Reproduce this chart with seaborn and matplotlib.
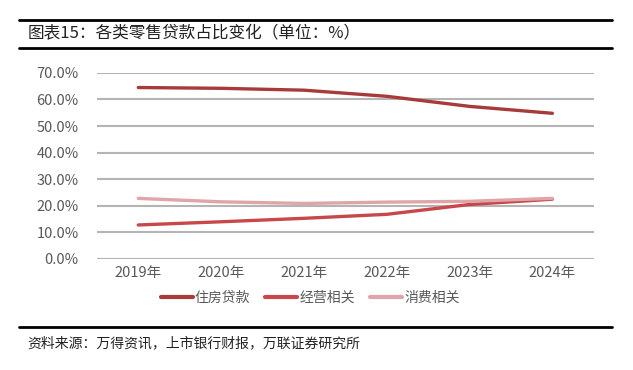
import pandas as pd
import seaborn as sns
import matplotlib.pyplot as plt
from matplotlib.lines import Line2D

# 各类零售贷款占比（%）
years = ['2019年', '2020年', '2021年', '2022年', '2023年', '2024年']
housing = [64.5, 64.2, 63.5, 61.2, 57.4, 54.8]
business = [12.8, 14.0, 15.3, 16.8, 20.5, 22.5]
consumer = [22.8, 21.5, 20.9, 21.4, 21.7, 22.8]
series_names = ['住房贷款', '经营相关', '消费相关']
colors = ['#A83A3A', '#C8474A', '#E0A5A8']

df = pd.DataFrame({'year': years * 3,
                   'value': housing + business + consumer,
                   'type': [n for n in series_names for _ in years]})

sns.set_style('white')
plt.rcParams['font.family'] = ['Noto Sans CJK SC', 'DejaVu Sans']

fig = plt.figure(figsize=(6.33, 3.70), dpi=100)
ax = fig.add_axes([0.153, 0.30, 0.785, 0.503])

sns.lineplot(data=df, x='year', y='value', hue='type', palette=colors,
             linewidth=2.4, ax=ax, legend=False, sort=False)

ax.set_xlim(-0.5, 5.5)
ax.set_ylim(0, 70)
ax.set_yticks(range(0, 71, 10))
ax.set_yticklabels([f'{v:.1f}%' for v in range(0, 71, 10)])
ax.yaxis.grid(True, color='#B4B4B4', linewidth=1.5)
ax.set_axisbelow(True)
for s in ax.spines.values():
    s.set_visible(False)
ax.tick_params(axis='both', length=0, labelsize=10.5, colors='#595959', pad=5)
ax.tick_params(axis='y', pad=13)
ax.set_xlabel('')
ax.set_ylabel('')

handles = [Line2D([], [], color=c, linewidth=3) for c in colors]
fig.legend(handles, series_names, loc='center', bbox_to_anchor=(0.49, 0.195),
           ncol=3, frameon=False, fontsize=10, handlelength=2.3,
           handletextpad=0.15, columnspacing=1.1, labelcolor='#595959')

# 标题与来源
fig.add_artist(Line2D([0.03, 0.967], [0.946, 0.946], color='black', linewidth=2))
fig.add_artist(Line2D([0.03, 0.967], [0.87, 0.87], color='black', linewidth=2))
fig.text(0.043, 0.908, '图表15：各类零售贷款占比变化（单位：%）', fontsize=12,
         va='center', ha='left', color='#222222')
fig.add_artist(Line2D([0.03, 0.967], [0.116, 0.116], color='black', linewidth=2))
fig.text(0.043, 0.073, '资料来源：万得资讯，上市银行财报，万联证券研究所', fontsize=10,
         va='center', ha='left', style='italic', color='#222222')

fig.savefig('out.png', dpi=100)
